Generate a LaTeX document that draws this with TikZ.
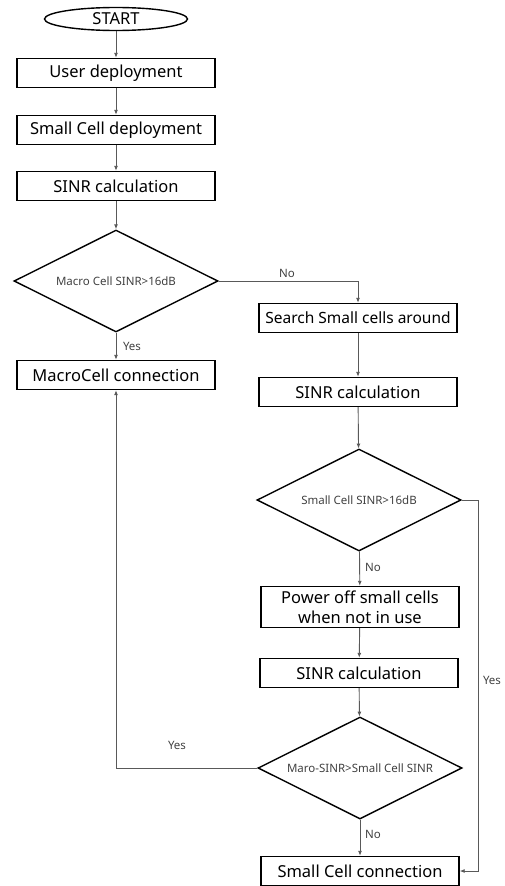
\documentclass[tikz,border=0pt]{standalone}
\usepackage{fontspec}
\setmainfont{Noto Sans}
\usetikzlibrary{shapes.geometric,arrows.meta}

\begin{document}
\begin{tikzpicture}[x=1pt,y=-1pt,
		box/.style={draw,line width=1.4pt,minimum width=198pt,minimum height=29pt,inner sep=1pt,font=\fontsize{16.5}{20}\selectfont,align=center},
		decision/.style={draw,diamond,aspect=2,line width=1.4pt,minimum width=204pt,minimum height=102pt,inner sep=0pt,font=\fontsize{11.5}{13}\selectfont,text=black!75},
		link/.style={draw=black!65,line width=0.9pt,-{Latex[length=5pt,width=4pt]}},
		lbl/.style={font=\fontsize{11.5}{13}\selectfont,text=black!75}]
			\useasboundingbox (0,0) rectangle (504,886);
			%\draw[help lines,step=50] (0,0) grid (504,886);
			
			\node[draw,ellipse,line width=1.4pt,minimum width=143pt,minimum height=23pt,inner sep=0pt,font=\fontsize{16.5}{20}\selectfont] (start) at (116,19) {START};
			\node[box] (user) at (116,73) {User deployment};
			\node[box] (sdep) at (116,130) {Small Cell deployment};
			\node[box] (sinra) at (116,186) {SINR calculation};
			\node[decision] (deca) at (116,281) {Macro Cell SINR>16dB};
			\node[box] (macro) at (116,375) {MacroCell connection};
			
			\node[box,font=\fontsize{15.5}{19}\selectfont] (search) at (358,318) {Search Small cells around};
			\node[box] (sinrb) at (358,392) {SINR calculation};
			\node[decision] (decb) at (359,500) {Small Cell SINR>16dB};
			\node[box,minimum height=41pt,inner sep=0pt] (power) at (360,607) {Power off small cells\\when not in use};
			\node[box] (sinrc) at (359,673) {SINR calculation};
			\node[decision] (decc) at (360,768) {Maro-SINR>Small Cell SINR};
			\node[box] (sconn) at (360,871) {Small Cell connection};
			
			\coordinate (side) at (478,500);
			
			\draw[link] (start) -- (user);
			\draw[link] (user) -- (sdep);
			\draw[link] (sdep) -- (sinra);
			\draw[link] (sinra) -- (deca);
			\draw[link] (deca.east) -| (search.north);
			\draw[link] (deca) -- (macro);
			\draw[link] (search) -- (sinrb);
			\draw[link] (sinrb) -- (decb);
			\draw[link] (decb) -- (power);
			\draw[link] (power) -- (sinrc);
			\draw[link] (sinrc) -- (decc);
			\draw[link] (decc) -- (sconn);
			\draw[link] (decb.east) -- (side) |- (sconn.east);
			\draw[link] (decc.west) -| (macro.south);
			
			\node[lbl] (noa) at (287,273) {No};
			\node[lbl] (yesa) at (132,346) {Yes};
			\node[lbl] (nob) at (373,567) {No};
			\node[lbl] (yesb) at (492,680) {Yes};
			\node[lbl] (yesc) at (177,745) {Yes};
			\node[lbl] (noc) at (373,834) {No};
		\end{tikzpicture}
\end{document}
